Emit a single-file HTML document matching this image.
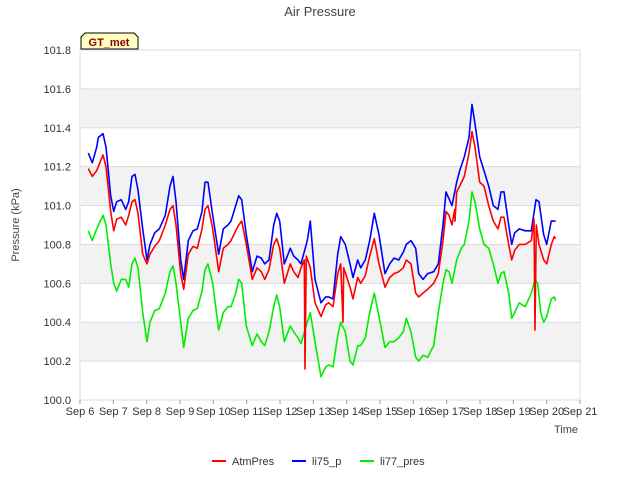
<!DOCTYPE html>
<html><head><meta charset="utf-8"><style>
body{margin:0;background:#fff;font-family:"Liberation Sans",sans-serif;}
</style></head><body>
<svg id="chart" width="640" height="480" xmlns="http://www.w3.org/2000/svg" font-family="Liberation Sans, sans-serif">
<rect width="640" height="480" fill="#fff"/>
<g id="bands"></g>
<g id="grid"></g>
<g id="axes"></g>
<g id="series"></g>
<text x="320" y="16" text-anchor="middle" font-size="13" fill="#444">Air Pressure</text>
<text transform="translate(19,225) rotate(-90)" text-anchor="middle" font-size="11" fill="#444">Pressure (kPa)</text>
<text x="578" y="433" text-anchor="end" font-size="11" fill="#444">Time</text>
<g>
<path d="M81,49 L81,37 L85,33 L134,33 L138,37 L138,49 Z" fill="#ffffc0" stroke="#000" stroke-width="1"/>
<text x="109" y="46" text-anchor="middle" font-size="11" font-weight="bold" fill="#8b0000">GT_met</text>
</g>
<g id="legend"></g>
</svg>
<script>
const yTicks=[100.0,100.2,100.4,100.6,100.8,101.0,101.2,101.4,101.6,101.8];
const xTickLabels=["Sep 6","Sep 7","Sep 8","Sep 9","Sep 10","Sep 11","Sep 12","Sep 13","Sep 14","Sep 15","Sep 16","Sep 17","Sep 18","Sep 19","Sep 20","Sep 21"];
const seriesNames=["AtmPres","li75_p","li77_pres"];
const seriesColors=["#ff0000","#0000ff","#00ee00"];
const tBlue=[0.25,0.37,0.50,0.55,0.69,0.78,0.92,1.01,1.10,1.24,1.37,1.46,1.56,1.65,1.74,1.88,2.01,2.10,2.24,2.38,2.56,2.70,2.79,2.88,3.02,3.11,3.25,3.39,3.52,3.66,3.75,3.84,3.98,4.16,4.30,4.44,4.53,4.67,4.76,4.85,4.99,5.17,5.31,5.44,5.54,5.67,5.81,5.90,5.99,6.13,6.31,6.41,6.54,6.63,6.82,6.91,7.05,7.23,7.37,7.46,7.59,7.73,7.82,7.96,8.10,8.19,8.33,8.42,8.56,8.69,8.83,8.97,9.15,9.29,9.42,9.56,9.70,9.79,9.93,10.07,10.16,10.29,10.43,10.61,10.75,10.89,10.98,11.03,11.16,11.30,11.39,11.53,11.67,11.76,11.85,11.99,12.12,12.26,12.40,12.54,12.63,12.72,12.86,12.95,13.04,13.18,13.36,13.54,13.68,13.77,13.91,14.00,14.14,14.27];
const vBlue=[101.27,101.22,101.30,101.35,101.37,101.30,101.05,100.97,101.02,101.03,100.98,101.02,101.15,101.16,101.08,100.88,100.72,100.80,100.86,100.88,100.95,101.10,101.15,101.02,100.72,100.62,100.82,100.87,100.88,100.97,101.12,101.12,100.95,100.75,100.88,100.90,100.92,101.00,101.05,101.03,100.85,100.66,100.74,100.73,100.70,100.72,100.90,100.96,100.92,100.70,100.78,100.74,100.72,100.70,100.82,100.92,100.62,100.50,100.53,100.53,100.52,100.75,100.84,100.80,100.70,100.63,100.72,100.68,100.72,100.82,100.96,100.85,100.65,100.70,100.73,100.72,100.76,100.80,100.82,100.78,100.65,100.62,100.65,100.66,100.70,100.90,101.07,101.05,101.00,101.12,101.18,101.25,101.35,101.52,101.42,101.25,101.18,101.10,101.00,100.98,101.07,101.07,100.90,100.80,100.86,100.88,100.87,100.87,101.03,101.02,100.85,100.80,100.92,100.92];
const tRed=[0.25,0.37,0.50,0.69,0.78,0.92,1.01,1.10,1.24,1.37,1.46,1.56,1.65,1.74,1.88,2.01,2.10,2.24,2.38,2.56,2.70,2.79,2.88,3.02,3.11,3.25,3.39,3.52,3.66,3.75,3.84,3.98,4.16,4.30,4.44,4.53,4.67,4.76,4.85,4.99,5.17,5.31,5.44,5.54,5.67,5.81,5.90,5.99,6.13,6.31,6.41,6.54,6.63,6.73,6.75,6.79,6.91,7.05,7.23,7.37,7.46,7.59,7.73,7.82,7.89,7.91,8.10,8.19,8.33,8.42,8.56,8.69,8.83,8.97,9.15,9.29,9.42,9.56,9.70,9.79,9.93,10.07,10.16,10.29,10.43,10.61,10.75,10.89,10.98,11.07,11.16,11.24,11.25,11.30,11.39,11.53,11.67,11.76,11.85,11.99,12.12,12.26,12.40,12.54,12.63,12.72,12.86,12.95,13.04,13.18,13.36,13.54,13.62,13.65,13.69,13.77,13.91,14.00,14.14,14.23,14.27];
const vRed=[101.19,101.15,101.18,101.26,101.20,100.97,100.87,100.93,100.94,100.90,100.95,101.02,101.03,100.96,100.75,100.70,100.75,100.79,100.82,100.90,100.98,101.00,100.90,100.65,100.57,100.75,100.79,100.78,100.88,100.98,101.00,100.88,100.66,100.78,100.80,100.82,100.87,100.90,100.92,100.80,100.62,100.68,100.66,100.62,100.67,100.80,100.83,100.78,100.60,100.70,100.66,100.63,100.68,100.72,100.16,100.74,100.68,100.50,100.43,100.49,100.50,100.48,100.65,100.70,100.40,100.68,100.58,100.52,100.63,100.60,100.64,100.74,100.83,100.70,100.58,100.63,100.65,100.66,100.68,100.72,100.70,100.55,100.53,100.55,100.57,100.60,100.65,100.82,100.97,100.95,100.90,100.98,100.92,101.07,101.10,101.15,101.27,101.38,101.30,101.12,101.10,101.00,100.92,100.88,100.94,100.94,100.80,100.72,100.77,100.80,100.80,100.82,100.93,100.36,100.90,100.80,100.72,100.70,100.80,100.84,100.83];
const tGreen=[0.25,0.37,0.50,0.69,0.78,0.92,1.01,1.10,1.24,1.37,1.46,1.56,1.65,1.74,1.88,2.01,2.10,2.24,2.38,2.56,2.70,2.79,2.88,3.02,3.11,3.25,3.39,3.52,3.66,3.75,3.84,3.98,4.16,4.30,4.44,4.53,4.67,4.76,4.85,4.99,5.17,5.31,5.44,5.54,5.67,5.81,5.90,5.99,6.13,6.31,6.41,6.54,6.63,6.82,6.91,7.05,7.23,7.37,7.46,7.59,7.73,7.82,7.96,8.10,8.19,8.33,8.42,8.56,8.69,8.83,8.97,9.15,9.29,9.42,9.56,9.70,9.79,9.93,10.07,10.16,10.29,10.43,10.61,10.75,10.89,10.98,11.07,11.16,11.30,11.44,11.53,11.67,11.76,11.85,11.99,12.12,12.26,12.40,12.54,12.63,12.72,12.86,12.95,13.04,13.18,13.36,13.54,13.65,13.73,13.82,13.91,14.00,14.14,14.23,14.27];
const vGreen=[100.87,100.82,100.88,100.95,100.90,100.70,100.60,100.56,100.62,100.62,100.58,100.70,100.73,100.68,100.45,100.30,100.40,100.46,100.47,100.55,100.66,100.69,100.60,100.40,100.27,100.42,100.46,100.47,100.56,100.67,100.70,100.60,100.36,100.45,100.48,100.48,100.55,100.62,100.60,100.38,100.28,100.34,100.30,100.28,100.35,100.48,100.54,100.48,100.30,100.38,100.35,100.32,100.29,100.40,100.45,100.30,100.12,100.17,100.18,100.17,100.33,100.40,100.35,100.20,100.18,100.28,100.28,100.32,100.45,100.55,100.43,100.27,100.30,100.30,100.32,100.35,100.42,100.35,100.22,100.20,100.23,100.22,100.28,100.45,100.60,100.67,100.66,100.60,100.72,100.78,100.80,100.92,101.07,101.02,100.88,100.80,100.78,100.70,100.60,100.65,100.66,100.55,100.42,100.45,100.50,100.48,100.55,100.62,100.60,100.45,100.40,100.43,100.52,100.53,100.51];

const NS="http://www.w3.org/2000/svg";
const X0=80,X1=580,Y0=400,Y1=50,TMAX=15,VMIN=100.0,VMAX=101.8;
function xs(t){return X0+(X1-X0)*t/TMAX;}
function ys(v){return Y0-(Y0-Y1)*(v-VMIN)/(VMAX-VMIN);}
function mk(tag,attrs,parent){const e=document.createElementNS(NS,tag);for(const k in attrs)e.setAttribute(k,attrs[k]);parent.appendChild(e);return e;}
const bands=document.getElementById('bands'),grid=document.getElementById('grid'),axes=document.getElementById('axes'),ser=document.getElementById('series'),leg=document.getElementById('legend');
mk('rect',{x:X0,y:Y1,width:X1-X0,height:Y0-Y1,fill:'#fff',stroke:'#ddd'},bands);
for(let i=0;i<yTicks.length-1;i++){
  if(i%2===1){const r=mk('rect',{x:X0,y:ys(yTicks[i+1]),width:X1-X0,height:ys(yTicks[i])-ys(yTicks[i+1]),fill:'#f2f2f2'},bands);
  
  }
}
yTicks.forEach(v=>{
  const l=mk('line',{x1:X0,x2:X1,y1:ys(v),y2:ys(v),stroke:'#dcdcdc','stroke-width':1},grid);
  
  
  const t=mk('text',{x:X0-9,y:ys(v)+4,'text-anchor':'end','font-size':11,fill:'#333'},axes);
  
  
  t.textContent=v.toFixed(1);
});
xTickLabels.forEach((s,i)=>{
  const x=xs(i);
  mk('line',{x1:x,x2:x,y1:Y0,y2:Y0+4,stroke:'#999'},axes);
  const t=mk('text',{x:x,y:Y0+15,'text-anchor':'middle','font-size':11,fill:'#333'},axes);
  
  
  t.textContent=s;
});
const data=[[tRed,vRed],[tBlue,vBlue],[tGreen,vGreen]];
[2,1,0].forEach(k=>{
  const [T,V]=data[k];
  const d=T.map((t,i)=>(i?'L':'M')+xs(t).toFixed(1)+','+ys(V[i]).toFixed(1)).join(' ');
  const p=mk('path',{d:d,fill:'none',stroke:seriesColors[k],'stroke-width':1.6,'stroke-linejoin':'round'},ser);
  
  
});
const lx=[212,292,360];
seriesNames.forEach((n,i)=>{
  const g=mk('g',{},leg);
  
  
  mk('line',{x1:lx[i],x2:lx[i]+14,y1:461,y2:461,stroke:seriesColors[i],'stroke-width':2},g);
  const t=mk('text',{x:lx[i]+20,y:465,'font-size':11,fill:'#333'},g);
  t.textContent=n;
});
</script>
</body></html>
